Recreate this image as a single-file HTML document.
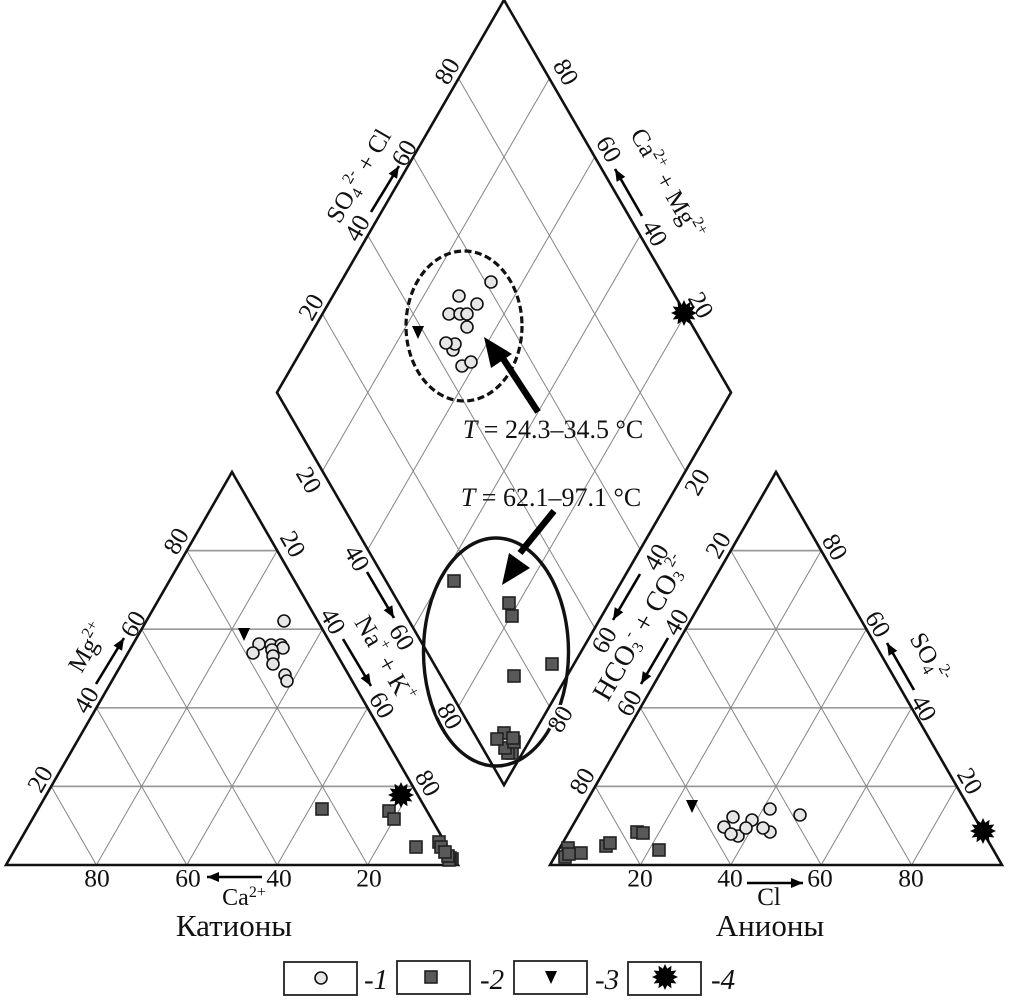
<!DOCTYPE html>
<html><head><meta charset="utf-8"><style>
html,body{margin:0;padding:0;background:#fff}
svg{display:block}
text{font-family:"Liberation Serif",serif;fill:#111;text-anchor:middle}
.t{font-size:25.5px;dominant-baseline:central}
.h{paint-order:stroke;stroke:#fff;stroke-width:4px}
.a{font-size:26px}
.s{font-size:16px}
.big{font-size:31px}
.l{font-size:29px;font-style:italic;text-anchor:start}
.g{stroke:#858585;stroke-width:1;fill:none}
.gh{stroke:#999;stroke-width:1.7;fill:none}
.e{stroke:#111;stroke-width:2.6;fill:none;stroke-linejoin:miter}
.ar{stroke:#000;stroke-width:2.6;fill:none}
</style></head><body>
<svg width="1010" height="1002" viewBox="0 0 1010 1002" xmlns="http://www.w3.org/2000/svg">
<defs>
<g id="c"><circle r="6" fill="#e6e6e6" stroke="#111" stroke-width="1.6"/></g>
<g id="q"><rect x="-6" y="-6" width="12" height="12" fill="#595959" stroke="#222" stroke-width="1.6"/></g>
<g id="v"><polygon points="-6,-6 6,-6 0,7" fill="#000"/></g>
<g id="st"><polygon fill="#000" points="13,0 8.2,2.2 11.3,6.5 6,6 6.5,11.3 2.2,8.2 0,13 -2.2,8.2 -6.5,11.3 -6,6 -11.3,6.5 -8.2,2.2 -13,0 -8.2,-2.2 -11.3,-6.5 -6,-6 -6.5,-11.3 -2.2,-8.2 0,-13 2.2,-8.2 6.5,-11.3 6,-6 11.3,-6.5 8.2,-2.2"/></g>
<marker id="m" markerUnits="userSpaceOnUse" markerWidth="14" markerHeight="12" refX="12" refY="5" orient="auto"><path d="M0,0L12,5L0,10Z" fill="#000"/></marker>
<g id="tri">
<path class="gh" d="M51.2 786.4H412.8M96.4 707.8H367.6M141.6 629.2H322.4M186.8 550.6H277.2"/>
<path class="g" d="M96.4 865L51.2 786.4M186.8 865L96.4 707.8M277.2 865L141.6 629.2M367.6 865L186.8 550.6M367.6 865L412.8 786.4M277.2 865L367.6 707.8M186.8 865L322.4 629.2M96.4 865L277.2 550.6"/>
<path class="e" d="M6 865H458L232 472Z"/>
</g>
</defs>

<use href="#tri"/>
<use href="#tri" x="544"/>

<!-- diamond grid -->
<path class="g" d="M322.4 314L549.4 706.5M367.8 235.5L594.8 628M413.2 157L640.2 549.5M458.6 78.5L685.6 471M685.6 314L458.6 706.5M640.2 235.5L413.2 628M594.8 157L367.8 549.5M549.4 78.5L322.4 471"/>
<!-- ellipses -->
<ellipse cx="464" cy="326" rx="58" ry="75" fill="none" stroke="#111" stroke-width="3.2" stroke-dasharray="7 3.5"/>
<ellipse cx="496" cy="652" rx="72.5" ry="114" fill="none" stroke="#111" stroke-width="3.4"/>
<path class="e" d="M504 0L731 392.5L504 785L277 392.5Z"/>

<!-- big arrows -->
<path d="M538 412L500 354" stroke="#000" stroke-width="6.5" fill="none"/>
<polygon points="484,337 512,354 491,368" fill="#000"/>
<path d="M554 511L520 553" stroke="#000" stroke-width="6.5" fill="none"/>
<polygon points="502,585 530,568 509,553" fill="#000"/>

<!-- small arrows -->
<g class="ar">
<line x1="96" y1="684" x2="124" y2="638" marker-end="url(#m)"/>
<line x1="343" y1="639" x2="371" y2="686" marker-end="url(#m)"/>
<line x1="367" y1="572" x2="394" y2="618" marker-end="url(#m)"/>
<line x1="371" y1="212" x2="399" y2="166" marker-end="url(#m)"/>
<line x1="642" y1="216" x2="615" y2="169" marker-end="url(#m)"/>
<line x1="640" y1="574" x2="613" y2="620" marker-end="url(#m)"/>
<line x1="668" y1="638" x2="641" y2="684" marker-end="url(#m)"/>
<line x1="914" y1="690" x2="887" y2="643" marker-end="url(#m)"/>
<line x1="262" y1="877" x2="207" y2="877" marker-end="url(#m)"/>
<line x1="747" y1="883" x2="803" y2="883" marker-end="url(#m)"/>
</g>

<!-- tick labels -->
<g class="t">
<text transform="translate(176,541) rotate(-60)">80</text>
<text transform="translate(133,624) rotate(-60)">60</text>
<text transform="translate(86,700) rotate(-60)">40</text>
<text transform="translate(40,779) rotate(-60)">20</text>
<text transform="translate(293,544) rotate(60)">20</text>
<text transform="translate(333,621) rotate(60)">40</text>
<text transform="translate(382,705) rotate(60)">60</text>
<text transform="translate(428,783) rotate(60)">80</text>
<text x="97" y="878">80</text><text x="188" y="878">60</text><text x="279" y="878">40</text><text x="369" y="878">20</text>

<text transform="translate(447,71) rotate(-60)">80</text>
<text transform="translate(404,153) rotate(-60)">60</text>
<text transform="translate(357,228) rotate(-60)">40</text>
<text transform="translate(311,307) rotate(-60)">20</text>
<text transform="translate(566,72) rotate(60)">80</text>
<text transform="translate(609,149) rotate(60)">60</text>
<text transform="translate(655,233) rotate(60)">40</text>
<text transform="translate(701,305) rotate(60)">20</text>
<text transform="translate(309,480) rotate(60)">20</text>
<text transform="translate(357,558) rotate(60)">40</text>
<text transform="translate(402,637) rotate(60)">60</text>
<text class="h" transform="translate(450,716) rotate(60)">80</text>
<text class="h" transform="translate(560,719) rotate(-60)">80</text>
<text transform="translate(604,640) rotate(-60)">60</text>
<text transform="translate(656,557) rotate(-60)">40</text>
<text transform="translate(697,482) rotate(-60)">20</text>

<text transform="translate(718,545) rotate(-60)">20</text>
<text transform="translate(676,622) rotate(-60)">40</text>
<text transform="translate(629,703) rotate(-60)">60</text>
<text transform="translate(582,781) rotate(-60)">80</text>
<text transform="translate(835,547) rotate(60)">80</text>
<text transform="translate(878,624) rotate(60)">60</text>
<text transform="translate(924,708) rotate(60)">40</text>
<text transform="translate(970,781) rotate(60)">20</text>
<text x="640" y="878">20</text><text x="730" y="878">40</text><text x="820" y="878">60</text><text x="911" y="878">80</text>
</g>

<!-- axis titles -->
<text class="a" style="font-size:25px" transform="translate(88,648) rotate(-60)" dominant-baseline="central">Mg<tspan class="s" dy="-8">2+</tspan></text>
<text class="a" transform="translate(385,659) rotate(60)" dominant-baseline="central">Na<tspan class="s" dy="-8">+</tspan><tspan dy="8"> + K</tspan><tspan class="s" dy="-8">+</tspan></text>
<text class="a" style="font-size:25px" transform="translate(359,176) rotate(-60)" dominant-baseline="central">SO<tspan class="s" dy="7">4</tspan><tspan class="s" dy="-15">2-</tspan><tspan dy="8"> + Cl</tspan></text>
<text class="a" style="font-size:25px" transform="translate(667,184) rotate(60)" dominant-baseline="central">Ca<tspan class="s" dy="-8">2+</tspan><tspan dy="8"> + Mg</tspan><tspan class="s" dy="-8">2+</tspan></text>
<text class="a" style="font-size:28px" transform="translate(641,628) rotate(-60)" dominant-baseline="central">HCO<tspan class="s" dy="7">3</tspan><tspan class="s" dy="-15">-</tspan><tspan dy="8"> + CO</tspan><tspan class="s" dy="7">3</tspan><tspan class="s" dy="-15">2-</tspan></text>
<text class="a" style="font-size:25px" transform="translate(929,658) rotate(60)" dominant-baseline="central">SO<tspan class="s" dy="7">4</tspan><tspan class="s" dy="-15">2-</tspan></text>
<text x="244" y="905" class="a" style="font-size:24px">Ca<tspan class="s" dy="-8">2+</tspan></text>
<text x="769" y="905" class="a" style="font-size:25px">Cl</text>
<text x="234" y="936" class="big">Катионы</text>
<text x="770" y="936" class="big">Анионы</text>

<text x="553" y="438" class="a"><tspan font-style="italic">T</tspan> = 24.3–34.5 °C</text>
<text x="551" y="506" class="a"><tspan font-style="italic">T</tspan> = 62.1–97.1 °C</text>

<!-- left markers -->
<use href="#c" x="284" y="621"/><use href="#c" x="259" y="644"/><use href="#c" x="253" y="653"/><use href="#c" x="271" y="645"/><use href="#c" x="281" y="645"/><use href="#c" x="283" y="648"/><use href="#c" x="272" y="650"/><use href="#c" x="273" y="656"/><use href="#c" x="273" y="664"/><use href="#c" x="285" y="675"/><use href="#c" x="287" y="681"/>
<use href="#v" x="244" y="634"/>
<use href="#q" x="322" y="809"/><use href="#q" x="389" y="811"/><use href="#q" x="394" y="819"/><use href="#q" x="416" y="847"/><use href="#q" x="439" y="842"/><use href="#q" x="441" y="847"/><use href="#q" x="452" y="859"/><use href="#q" x="450" y="858"/><use href="#q" x="449" y="860"/><use href="#q" x="448" y="856"/><use href="#q" x="445" y="852"/>
<use href="#st" x="401" y="795"/>

<!-- diamond markers -->
<use href="#c" x="491" y="282"/><use href="#c" x="459" y="296"/><use href="#c" x="477" y="304"/><use href="#c" x="449" y="314"/><use href="#c" x="460" y="314"/><use href="#c" x="467" y="314"/><use href="#c" x="467" y="327"/><use href="#c" x="453" y="350"/><use href="#c" x="455" y="344"/><use href="#c" x="446" y="343"/><use href="#c" x="462" y="366"/><use href="#c" x="471" y="362"/>
<use href="#v" x="418" y="332"/>
<use href="#st" x="684" y="313"/>
<use href="#q" x="454" y="581"/><use href="#q" x="509" y="603"/><use href="#q" x="512" y="616"/><use href="#q" x="552" y="664"/><use href="#q" x="514" y="676"/><use href="#q" x="512" y="753"/><use href="#q" x="508" y="753"/><use href="#q" x="505" y="748"/><use href="#q" x="514" y="742"/><use href="#q" x="504" y="733"/><use href="#q" x="513" y="738"/><use href="#q" x="497" y="739"/>

<!-- right markers -->
<use href="#c" x="770" y="809"/><use href="#c" x="800" y="815"/><use href="#c" x="733" y="817"/><use href="#c" x="752" y="820"/><use href="#c" x="724" y="827"/><use href="#c" x="738" y="836"/><use href="#c" x="731" y="834"/><use href="#c" x="746" y="828"/><use href="#c" x="770" y="832"/><use href="#c" x="763" y="828"/>
<use href="#v" x="692" y="806"/>
<use href="#q" x="637" y="832"/><use href="#q" x="643" y="833"/><use href="#q" x="606" y="846"/><use href="#q" x="610" y="843"/><use href="#q" x="659" y="850"/><use href="#q" x="581" y="853"/><use href="#q" x="568" y="848"/><use href="#q" x="565" y="857"/><use href="#q" x="569" y="854"/>
<use href="#st" x="983" y="831"/>

<!-- legend -->
<g fill="#fff" stroke="#222" stroke-width="1.8">
<rect x="284" y="962" width="73" height="33"/><rect x="397" y="961" width="73" height="33"/><rect x="514" y="961" width="73" height="33"/><rect x="628" y="962" width="73" height="33"/>
</g>
<use href="#c" x="321" y="978"/><use href="#q" x="431" y="977"/><use href="#v" x="551" y="977"/><use href="#st" x="665" y="977"/>
<text class="l" x="364" y="989">-1</text>
<text class="l" x="480" y="989">-2</text>
<text class="l" x="595" y="989">-3</text>
<text class="l" x="711" y="989">-4</text>
</svg>
</body></html>
